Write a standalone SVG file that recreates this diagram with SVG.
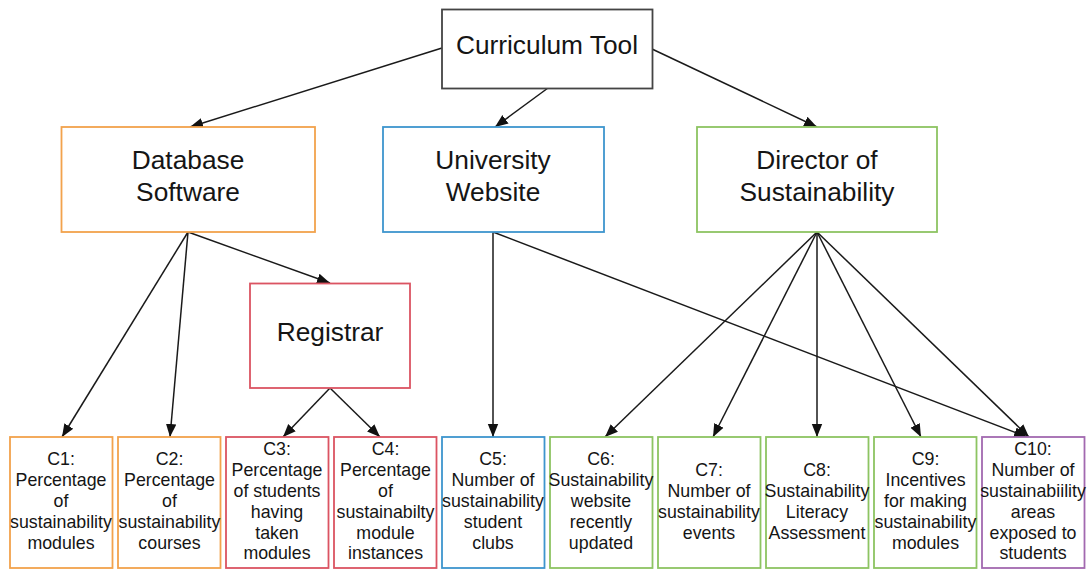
<svg xmlns="http://www.w3.org/2000/svg" width="1088" height="570" viewBox="0 0 1088 570">
  <defs>
    <marker id="arrow" markerUnits="userSpaceOnUse" markerWidth="14" markerHeight="12" viewBox="0 0 14 12" refX="13" refY="6" orient="auto">
      <path d="M0,0.8 L13,6 L0,11.2 Z" fill="#111"/>
    </marker>
    <style>
      .box { fill: #fff; stroke-width: 1.8; }
      .root { stroke: #444; }
      .orange { stroke: #F2A24C; }
      .blue { stroke: #3D95CE; }
      .green { stroke: #8DC462; }
      .red { stroke: #DB5462; }
      .purple { stroke: #A269B0; }
      .big { font-family: "Liberation Sans", Arial, sans-serif; font-size: 26.3px; fill: #151515; text-anchor: middle; }
      .small { font-family: "Liberation Sans", Arial, sans-serif; font-size: 17.8px; fill: #151515; text-anchor: middle; }
      .edge { stroke: #1a1a1a; stroke-width: 1.5; fill: none; marker-end: url(#arrow); }
    </style>
  </defs>
  <rect width="1088" height="570" fill="#fff"/>

  <!-- connectors -->
  <g id="connectors">
    <line class="edge" x1="442" y1="48" x2="190" y2="127"/>
    <line class="edge" x1="548" y1="88" x2="495" y2="127"/>
    <line class="edge" x1="652" y1="49" x2="817" y2="127"/>
    <line class="edge" x1="188" y1="232" x2="62" y2="437"/>
    <line class="edge" x1="188" y1="232" x2="170" y2="437"/>
    <line class="edge" x1="188" y1="232" x2="330" y2="283"/>
    <line class="edge" x1="330" y1="388" x2="283" y2="437"/>
    <line class="edge" x1="330" y1="388" x2="380" y2="437"/>
    <line class="edge" x1="493" y1="232" x2="493" y2="437"/>
    <line class="edge" x1="493" y1="232" x2="1027" y2="437"/>
    <line class="edge" x1="817" y1="232" x2="605" y2="437"/>
    <line class="edge" x1="817" y1="232" x2="713" y2="437"/>
    <line class="edge" x1="817" y1="232" x2="817" y2="437"/>
    <line class="edge" x1="817" y1="232" x2="921" y2="437"/>
    <line class="edge" x1="817" y1="232" x2="1029" y2="437"/>
  </g>

  <!-- top level -->
  <g id="curriculum-tool">
    <rect class="box root" x="442" y="9.5" width="210.5" height="79"/>
    <text class="big" x="547" y="54">Curriculum Tool</text>
  </g>

  <!-- second level -->
  <g id="database-software">
    <rect class="box orange" x="61.5" y="127" width="253.5" height="105"/>
    <text class="big" x="188" y="169">Database</text>
    <text class="big" x="188" y="201">Software</text>
  </g>
  <g id="university-website">
    <rect class="box blue" x="383" y="127" width="221" height="105"/>
    <text class="big" x="493" y="169">University</text>
    <text class="big" x="493" y="201">Website</text>
  </g>
  <g id="director-of-sustainability">
    <rect class="box green" x="697" y="127" width="240" height="105"/>
    <text class="big" x="817" y="169">Director of</text>
    <text class="big" x="817" y="201">Sustainability</text>
  </g>
  <g id="registrar">
    <rect class="box red" x="250" y="283.5" width="160" height="104.5"/>
    <text class="big" x="330" y="341">Registrar</text>
  </g>

  <!-- criteria -->
  <g id="c1">
    <rect class="box orange" x="10" y="437" width="102.5" height="131"/>
    <text class="small" x="61" y="465">C1:</text>
    <text class="small" x="61" y="486">Percentage</text>
    <text class="small" x="61" y="507">of</text>
    <text class="small" x="61" y="528">sustainability</text>
    <text class="small" x="61" y="549">modules</text>
  </g>
  <g id="c2">
    <rect class="box orange" x="118" y="437" width="102.5" height="131"/>
    <text class="small" x="169.5" y="465">C2:</text>
    <text class="small" x="169.5" y="486">Percentage</text>
    <text class="small" x="169.5" y="507">of</text>
    <text class="small" x="169.5" y="528">sustainability</text>
    <text class="small" x="169.5" y="549">courses</text>
  </g>
  <g id="c3">
    <rect class="box red" x="226" y="437" width="102.5" height="131"/>
    <text class="small" x="277" y="455">C3:</text>
    <text class="small" x="277" y="476">Percentage</text>
    <text class="small" x="277" y="497">of students</text>
    <text class="small" x="277" y="518">having</text>
    <text class="small" x="277" y="539">taken</text>
    <text class="small" x="277" y="559">modules</text>
  </g>
  <g id="c4">
    <rect class="box red" x="334" y="437" width="102.5" height="131"/>
    <text class="small" x="385.5" y="455">C4:</text>
    <text class="small" x="385.5" y="476">Percentage</text>
    <text class="small" x="385.5" y="497">of</text>
    <text class="small" x="385.5" y="518">sustainabilty</text>
    <text class="small" x="385.5" y="539">module</text>
    <text class="small" x="385.5" y="559">instances</text>
  </g>
  <g id="c5">
    <rect class="box blue" x="442" y="437" width="102.5" height="131"/>
    <text class="small" x="493" y="465">C5:</text>
    <text class="small" x="493" y="486">Number of</text>
    <text class="small" x="493" y="507">sustainability</text>
    <text class="small" x="493" y="528">student</text>
    <text class="small" x="493" y="549">clubs</text>
  </g>
  <g id="c6">
    <rect class="box green" x="550" y="437" width="102.5" height="131"/>
    <text class="small" x="601" y="465">C6:</text>
    <text class="small" x="601" y="486">Sustainability</text>
    <text class="small" x="601" y="507">website</text>
    <text class="small" x="601" y="528">recently</text>
    <text class="small" x="601" y="549">updated</text>
  </g>
  <g id="c7">
    <rect class="box green" x="658" y="437" width="102.5" height="131"/>
    <text class="small" x="709" y="475.5">C7:</text>
    <text class="small" x="709" y="496.5">Number of</text>
    <text class="small" x="709" y="517.5">sustainability</text>
    <text class="small" x="709" y="538.5">events</text>
  </g>
  <g id="c8">
    <rect class="box green" x="766" y="437" width="102.5" height="131"/>
    <text class="small" x="817" y="475.5">C8:</text>
    <text class="small" x="817" y="496.5">Sustainability</text>
    <text class="small" x="817" y="517.5">Literacy</text>
    <text class="small" x="817" y="538.5">Assessment</text>
  </g>
  <g id="c9">
    <rect class="box green" x="874" y="437" width="102.5" height="131"/>
    <text class="small" x="925.5" y="465">C9:</text>
    <text class="small" x="925.5" y="486">Incentives</text>
    <text class="small" x="925.5" y="507">for making</text>
    <text class="small" x="925.5" y="528">sustainability</text>
    <text class="small" x="925.5" y="549">modules</text>
  </g>
  <g id="c10">
    <rect class="box purple" x="982" y="437" width="102.5" height="131"/>
    <text class="small" x="1033" y="455">C10:</text>
    <text class="small" x="1033" y="476">Number of</text>
    <text class="small" x="1033" y="497">sustainabiility</text>
    <text class="small" x="1033" y="518">areas</text>
    <text class="small" x="1033" y="539">exposed to</text>
    <text class="small" x="1033" y="559">students</text>
  </g>
</svg>
